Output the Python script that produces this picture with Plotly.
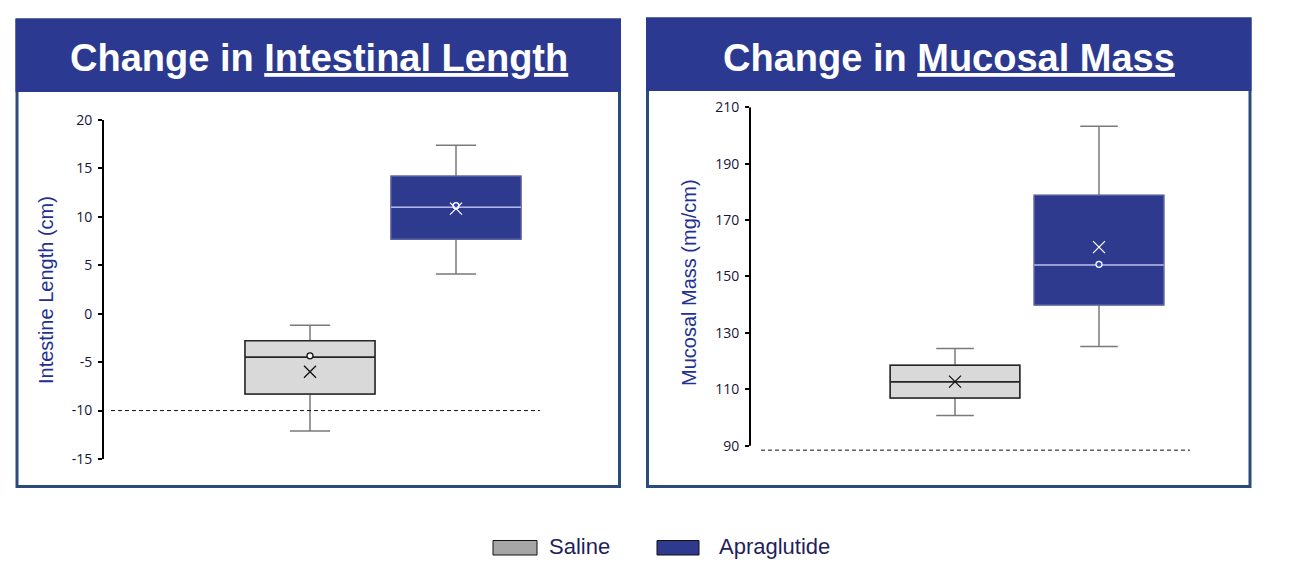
import plotly.graph_objects as go

# ---------------- data ----------------
groups = ["Saline", "Apraglutide"]
group_pos = [1, 2]

# Change in intestinal length (cm)
len_lower = [-12.1, 4.1]
len_q1 = [-8.3, 7.7]
len_median = [-4.5, 11.0]
len_q3 = [-2.8, 14.2]
len_upper = [-1.2, 17.4]
len_mean = [-6.0, 10.85]
len_point = [-4.35, 11.15]
len_reference = -10
len_tickvals = [-15, -10, -5, 0, 5, 10, 15, 20]
len_ticktext = ["-15", "-10", "-5", "0", "5", "10", "15", "20"]

# Change in mucosal mass (mg/cm)
mass_lower = [100.7, 125.2]
mass_q1 = [106.9, 139.9]
mass_median = [112.7, 154.1]
mass_q3 = [118.5, 178.8]
mass_upper = [124.5, 203.3]
mass_mean = [112.7, 160.4]
mass_point = [None, 154.3]
mass_reference = 88.4
mass_tickvals = [90, 110, 130, 150, 170, 190, 210]
mass_ticktext = ["90", "110", "130", "150", "170", "190", "210"]

panel_titles = ["Change in <u>Intestinal Length</u>", "Change in <u>Mucosal Mass</u>"]
axis_titles = ["Intestine Length (cm)", "Mucosal Mass (mg/cm)"]

# ---------------- styles ----------------
W, H = 1298, 588
NAVY = "#2b3990"
BOX_NAVY = "#2e3a8d"
BORDER = "#2b4b7b"
fill_colors = ["#d9d9d9", BOX_NAVY]
outline_colors = ["#262626", "#5a62ad"]
median_colors = ["#262626", "#b2b6e4"]
whisker_color = "#7a7a7a"
mean_colors = ["#111111", "#ffffff"]
point_fill = ["#ffffff", "#3344cc"]
point_line = ["#111111", "#ffffff"]
legend_swatch = ["#a6a6a6", BOX_NAVY]
TICK_COLOR = "#15153a"
TITLE_COLOR = "#22318f"


def fx(px):
    return px / W


def fy(py):
    return 1 - py / H


fig = go.Figure()

panels = [
    dict(xa="x", ya="y", lower=len_lower, q1=len_q1, med=len_median, q3=len_q3,
         upper=len_upper, mean=len_mean, point=len_point, width=0.89, whisk=0.31),
    dict(xa="x2", ya="y2", lower=mass_lower, q1=mass_q1, med=mass_median, q3=mass_q3,
         upper=mass_upper, mean=mass_mean, point=mass_point, width=0.90, whisk=0.29),
]

for p in panels:
    for i, g in enumerate(groups):
        # whiskers
        fig.add_trace(go.Box(
            x=[group_pos[i]], lowerfence=[p["lower"][i]], q1=[p["q1"][i]],
            median=[p["med"][i]], q3=[p["q3"][i]], upperfence=[p["upper"][i]],
            width=p["width"], whiskerwidth=p["whisk"], fillcolor=fill_colors[i],
            line=dict(color=whisker_color, width=1.5), name=g, showlegend=False,
            xaxis=p["xa"], yaxis=p["ya"], hoverinfo="skip", boxpoints=False))
        # box body
        fig.add_trace(go.Box(
            x=[group_pos[i]], lowerfence=[p["q1"][i]], q1=[p["q1"][i]],
            median=[p["med"][i]], q3=[p["q3"][i]], upperfence=[p["q3"][i]],
            width=p["width"], whiskerwidth=0, fillcolor=fill_colors[i],
            line=dict(color=outline_colors[i], width=1.5 if i == 0 else 1.2), name=g,
            showlegend=False, xaxis=p["xa"], yaxis=p["ya"], boxpoints=False))
        # median line
        fig.add_trace(go.Box(
            x=[group_pos[i]], lowerfence=[p["med"][i]], q1=[p["med"][i]],
            median=[p["med"][i]], q3=[p["med"][i]], upperfence=[p["med"][i]],
            width=p["width"], whiskerwidth=0, fillcolor="rgba(0,0,0,0)",
            line=dict(color=median_colors[i], width=1.5), name=g, showlegend=False,
            xaxis=p["xa"], yaxis=p["ya"], hoverinfo="skip", boxpoints=False))
        # inner point
        if p["point"][i] is not None:
            fig.add_trace(go.Scatter(
                x=[group_pos[i]], y=[p["point"][i]], mode="markers",
                marker=dict(symbol="circle", size=6, color=point_fill[i],
                            line=dict(color=point_line[i], width=1.3)),
                showlegend=False, xaxis=p["xa"], yaxis=p["ya"], hoverinfo="skip"))
        # mean
        fig.add_trace(go.Scatter(
            x=[group_pos[i]], y=[p["mean"][i]], mode="markers",
            marker=dict(symbol="x-thin", size=12, line=dict(color=mean_colors[i], width=1.3)),
            showlegend=False, xaxis=p["xa"], yaxis=p["ya"], hoverinfo="skip"))

tickfont = dict(family="Open Sans, Liberation Sans, Arial", size=14, color=TICK_COLOR)

shapes = []
annotations = []

# panel frames and headers
frames = [
    dict(x0=17, x1=619.5, top=20, bottom=486.5, hx0=15.5, hx1=621, hb=92, cx=318.5),
    dict(x0=647.5, x1=1250, top=19, bottom=486.5, hx0=646, hx1=1251.5, hb=91, cx=948.5),
]
for k, fr in enumerate(frames):
    shapes.append(dict(type="rect", xref="paper", yref="paper", x0=fx(fr["x0"]), x1=fx(fr["x1"]),
                       y0=fy(fr["bottom"]), y1=fy(fr["top"]), line=dict(color=BORDER, width=3),
                       fillcolor="white", layer="below"))
    shapes.append(dict(type="rect", xref="paper", yref="paper", x0=fx(fr["hx0"]), x1=fx(fr["hx1"]),
                       y0=fy(fr["hb"]), y1=fy(fr["top"] - 1.5), line=dict(width=0),
                       fillcolor=NAVY, layer="below"))
    annotations.append(dict(xref="paper", yref="paper", x=fx(fr["cx"]), y=fy(58),
                            text="<b>" + panel_titles[k] + "</b>", showarrow=False,
                            xanchor="center", yanchor="middle",
                            font=dict(family="Liberation Sans, Arial", size=38, color="white")))

# axis titles
for k, (px, py) in enumerate([(46, 290), (689, 282)]):
    annotations.append(dict(xref="paper", yref="paper", x=fx(px), y=fy(py), text=axis_titles[k],
                            textangle=-90, showarrow=False, xanchor="center", yanchor="middle",
                            font=dict(family="Liberation Sans, Arial", size=20, color=TITLE_COLOR)))

# reference dashed lines
shapes.append(dict(type="line", xref="x domain", yref="y", x0=0.016, x1=1.0,
                   y0=len_reference, y1=len_reference,
                   line=dict(color="#111111", width=1, dash="4px,3px")))
shapes.append(dict(type="line", xref="x2 domain", yref="y2", x0=0.025, x1=1.0,
                   y0=mass_reference, y1=mass_reference,
                   line=dict(color="#111111", width=1, dash="4px,3px")))
# right axis line (from lowest to highest tick)
shapes.append(dict(type="line", xref="x2 domain", yref="y2", x0=0, x1=0,
                   y0=min(mass_tickvals), y1=max(mass_tickvals),
                   line=dict(color="black", width=2)))

# legend
leg = [dict(sx0=493, sx1=537, tx=547), dict(sx0=657, sx1=699, tx=717)]
for i, g in enumerate(groups):
    shapes.append(dict(type="rect", xref="paper", yref="paper", x0=fx(leg[i]["sx0"]), x1=fx(leg[i]["sx1"]),
                       y0=fy(555), y1=fy(540.5), fillcolor=legend_swatch[i],
                       line=dict(color="#111111", width=1)))
    annotations.append(dict(xref="paper", yref="paper", x=fx(leg[i]["tx"]), y=fy(546), text=g,
                            showarrow=False, xanchor="left", yanchor="middle",
                            font=dict(family="Liberation Sans, Arial", size=22, color="#1f1f5c")))

fig.update_layout(
    width=W, height=H, autosize=False,
    margin=dict(l=0, r=0, t=0, b=0, pad=0, autoexpand=False),
    paper_bgcolor="white", plot_bgcolor="rgba(0,0,0,0)",
    boxmode="overlay", showlegend=False,
    shapes=shapes, annotations=annotations,
    xaxis=dict(domain=[fx(104), fx(540)], range=[1 - 206 / 146, 2 + 84 / 146],
               showticklabels=False, showgrid=False, zeroline=False, showline=False, ticks="",
               automargin=False),
    yaxis=dict(domain=[fy(459), fy(120)], range=[min(len_tickvals), max(len_tickvals)],
               tickvals=len_tickvals, ticktext=len_ticktext, tickfont=tickfont,
               ticks="outside", ticklen=4, tickwidth=1.5, tickcolor="black",
               showline=True, linewidth=2, linecolor="black", automargin=False,
               showgrid=False, zeroline=False, anchor="x", ticklabelstandoff=3),
    xaxis2=dict(domain=[fx(750), fx(1190)], range=[1 - 205 / 144, 2 + 91 / 144],
                showticklabels=False, showgrid=False, zeroline=False, showline=False, ticks="",
                anchor="y2", automargin=False),
    yaxis2=dict(domain=[fy(451.3), fy(107.3)], range=[88, 210],
                tickvals=mass_tickvals, ticktext=mass_ticktext, tickfont=tickfont,
                ticks="outside", ticklen=4, tickwidth=1.5, tickcolor="black", automargin=False,
                showline=False, showgrid=False, zeroline=False, anchor="x2", ticklabelstandoff=3),
)

fig.write_html(
    "out.html",
    config={"displayModeBar": False},
    post_script=(
        "document.documentElement.style.margin='0';"
        "document.documentElement.style.overflow='hidden';"
        "document.body.style.margin='0';document.body.style.padding='0';"
        "document.body.style.overflow='hidden';"
        "var gd=document.getElementById('{plot_id}');"
        "gd.style.position='fixed';gd.style.left='0px';gd.style.top='0px';"
    ),
)
